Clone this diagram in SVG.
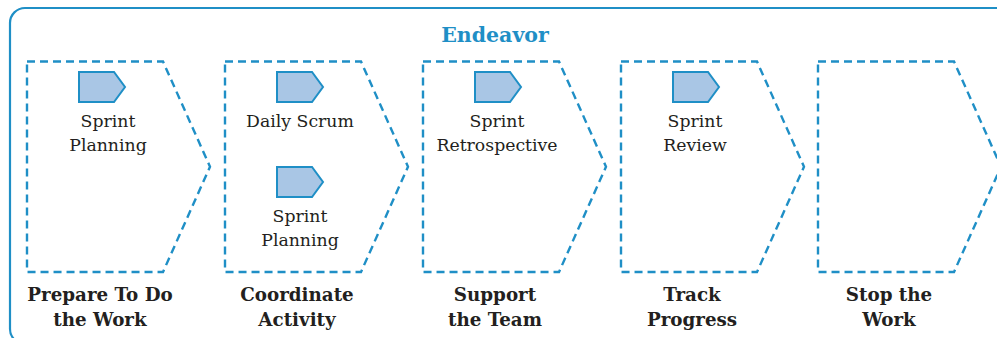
<svg xmlns="http://www.w3.org/2000/svg" width="997" height="338" viewBox="0 0 997 338">
<style>
.frame{fill:none;stroke:#1F8FC6;stroke-width:2.2}
.chev{fill:none;stroke:#1F8FC6;stroke-width:2.4;stroke-dasharray:8,5;stroke-linejoin:miter}
.pent{fill:#A9C6E5;stroke:#1F8FC6;stroke-width:2}
.t{font-family:"DejaVu Serif",serif;font-size:17.3px;fill:#231F20;text-anchor:middle}
.b{font-family:"DejaVu Serif",serif;font-size:18.3px;font-weight:bold;fill:#231F20;text-anchor:middle}
.title{font-family:"DejaVu Serif",serif;font-size:20.5px;font-weight:bold;fill:#1F8FC6;text-anchor:middle}
</style>
<defs>
<path id="chevron" d="M0,61.5 H136 L183,166.75 L136,272 H0 Z"/>
<path id="pentagon" d="M0,0 H35 L46,15 L35,30 H0 Z"/>
</defs>
<rect class="frame" x="10" y="8" width="1010" height="336" rx="15"/>
<text class="title" x="495" y="42">Endeavor</text>
<g id="connectors"/>
<g id="prepare">
<use href="#chevron" class="chev" x="27"/>
<use href="#pentagon" class="pent" x="79" y="72"/>
<text class="t" x="108" y="127">Sprint</text>
<text class="t" x="108" y="151">Planning</text>
<text class="b" x="100" y="301">Prepare To Do</text>
<text class="b" x="100" y="326">the Work</text>
</g>
<g id="coordinate">
<use href="#chevron" class="chev" x="225"/>
<use href="#pentagon" class="pent" x="277" y="72"/>
<text class="t" x="300" y="127">Daily Scrum</text>
<use href="#pentagon" class="pent" x="277" y="167"/>
<text class="t" x="300" y="222">Sprint</text>
<text class="t" x="300" y="246">Planning</text>
<text class="b" x="297" y="301">Coordinate</text>
<text class="b" x="297" y="326">Activity</text>
</g>
<g id="support">
<use href="#chevron" class="chev" x="423"/>
<use href="#pentagon" class="pent" x="475" y="72"/>
<text class="t" x="497" y="127">Sprint</text>
<text class="t" x="497" y="151">Retrospective</text>
<text class="b" x="495" y="301">Support</text>
<text class="b" x="495" y="326">the Team</text>
</g>
<g id="track">
<use href="#chevron" class="chev" x="621"/>
<use href="#pentagon" class="pent" x="673" y="72"/>
<text class="t" x="695" y="127">Sprint</text>
<text class="t" x="695" y="151">Review</text>
<text class="b" x="692" y="301">Track</text>
<text class="b" x="692" y="326">Progress</text>
</g>
<g id="stop">
<use href="#chevron" class="chev" x="818"/>
<text class="b" x="889" y="301">Stop the</text>
<text class="b" x="889" y="326">Work</text>
</g>
</svg>
